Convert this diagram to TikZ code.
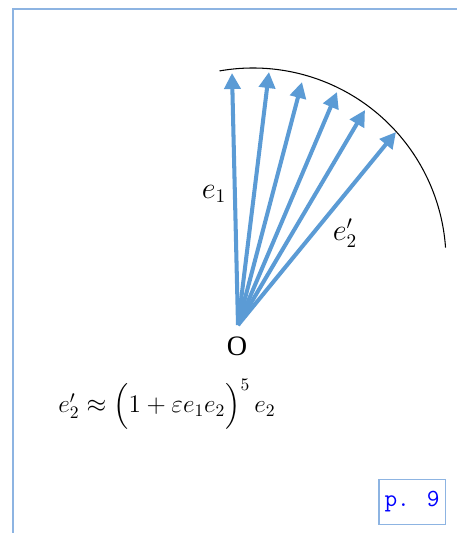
\documentclass[tikz,border=0pt]{standalone}
\usepackage{amsmath,amssymb}
\usepackage{xcolor}
\usepackage{fontspec}
\setmainfont{Liberation Serif}
\usepackage{tikz}
\usetikzlibrary{arrows.meta, positioning, calc}
\definecolor{vecblue}{RGB}{91,155,213}
\definecolor{framblue}{RGB}{141,180,226}
\tikzstyle{vec} = [line width=2.3pt, draw=vecblue, -{Triangle[length=0.32cm, width=0.32cm]}]
\tikzstyle{frame} = [line width=1.1pt, draw=framblue]
\tikzstyle{lbl} = [inner sep=1pt, font=\fontsize{16}{18}\selectfont]
\tikzstyle{pagebox} = [draw=framblue, line width=0.9pt, minimum width=1.22cm, minimum height=0.9cm, text=blue, font=\ttfamily\fontsize{14}{16}\selectfont]

\begin{document}
\begin{tikzpicture}[x=0.02cm, y=-0.02cm]
  \useasboundingbox (0,0) rectangle (457,533);
  % frame
  \draw[frame] (13,533) -- (13,9) -- (457,9);

  % origin and tips
  \coordinate (O) at (238,325);
  \node[lbl] (olbl) at (237,346) {O};
  \coordinate (t1) at (232,73);
  \coordinate (t2) at (269,72);
  \coordinate (t3) at (302,82);
  \coordinate (t4) at (337,92);
  \coordinate (t5) at (365,110);
  \coordinate (t6) at (396,132);

  % arc (y axis points down, so angles are negated)
  \draw[line width=0.6pt] (253,261) ++(-100:193) arc[start angle=-100, end angle=-4, radius=193];

  % vectors
  \foreach \t in {t1,t2,t3,t4,t5,t6}
    \draw[vec] (O) -- (\t);

  % labels
  \node[lbl] (e1) at (214,194) {$e_1$};
  \node[lbl] (e2p) at (345,233) {$e_2'$};
  \node[lbl, font=\fontsize{14.5}{17}\selectfont] (eqn) at (167,404) {$e_2' \approx \Bigl(1+\varepsilon e_1 e_2\Bigr)^5\, e_2$};

  % page tag
  \node[pagebox] (page) at (412,502) {p. 9};
\end{tikzpicture}
\end{document}
